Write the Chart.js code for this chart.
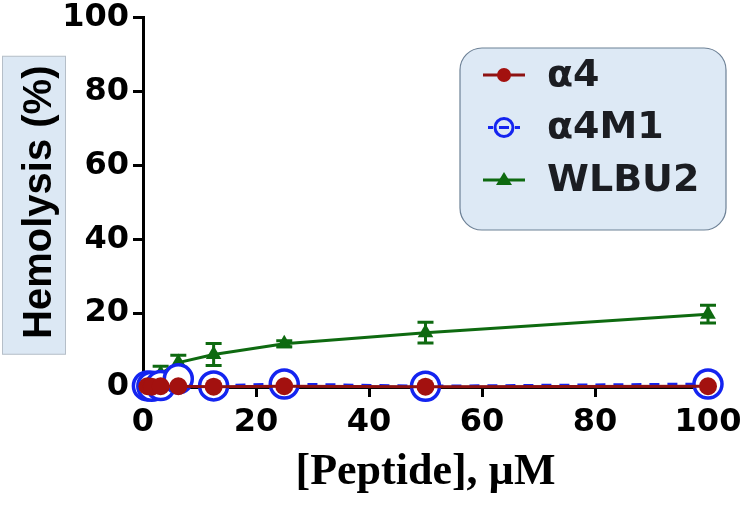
<!DOCTYPE html>
<html lang="en">
<head>
  <meta charset="UTF-8">
  <title>Hemolysis</title>
  <script src="https://cdn.jsdelivr.net/npm/chart.js"></script>
  <style>
    html, body { margin: 0; padding: 0; background: #fff; }
    #wrap { width: 740px; height: 507px; }
  </style>
</head>
<body>
  <div id="wrap"><canvas id="graf" width="740" height="507"></canvas></div>

  <script>
    /* --- datos --- */
    const conc      = [0.78, 1.56, 3.125, 6.25, 12.5, 25, 50, 100];   // µM
    const alfa4     = [0.2, 0.1, 0.2, 0.2, 0.1, 0.2, 0.1, 0.2];
    const alfa4M1   = [0.3, 0.2, 0.4, 2.2, 0.3, 0.8, 0.2, 0.8];
    const wlbu2     = [1.0, 1.8, 3.6, 6.6, 8.8, 11.7, 14.7, 19.7];
    const wlbu2Err  = [0.8, 1.2, 2.0, 2.0, 3.0, 0.8, 2.8, 2.4];
    const seriesNames = ['α4', 'α4M1', 'WLBU2'];
    const yTicks    = [0, 20, 40, 60, 80, 100];
    const xTicks    = [0, 20, 40, 60, 80, 100];

    const RED = '#a3110f', BLUE = '#1424f0', GREEN = '#0e6a10';
    const tickFont = { family: 'DejaVu Sans', weight: 'bold', size: 32 };

    const pts = arr => arr.map((v, i) => ({ x: conc[i], y: v }));

    /* caja celeste detrás del título del eje Y */
    const yTitleBox = {
      id: 'yTitleBox',
      beforeDraw(chart) {
        const s = chart.scales.y, ctx = chart.ctx;
        const cy = (s.top + s.bottom) / 2 + 3;
        ctx.save();
        ctx.fillStyle = '#dce8f4';
        ctx.strokeStyle = '#b5bec8';
        ctx.lineWidth = 1;
        ctx.fillRect(2.5, cy - 149, 63, 298);
        ctx.strokeRect(2.5, cy - 149, 63, 298);
        ctx.restore();
      }
    };

    /* barras de error de WLBU2 (se dibujan justo después de su serie) */
    const errorBars = {
      id: 'errorBars',
      afterDatasetDraw(chart, args) {
        if (args.index !== 2) return;
        const { x, y } = chart.scales, ctx = chart.ctx;
        ctx.save();
        ctx.strokeStyle = GREEN;
        ctx.lineWidth = 3;
        wlbu2.forEach((v, i) => {
          const px = x.getPixelForValue(conc[i]);
          const top = y.getPixelForValue(v + wlbu2Err[i]);
          const bot = y.getPixelForValue(v - wlbu2Err[i]);
          ctx.beginPath();
          ctx.moveTo(px, top); ctx.lineTo(px, bot);
          ctx.moveTo(px - 8, top); ctx.lineTo(px + 8, top);
          ctx.moveTo(px - 8, bot); ctx.lineTo(px + 8, bot);
          ctx.stroke();
        });
        ctx.restore();
      }
    };

    /* leyenda con caja redondeada */
    const legendBox = {
      id: 'legendBox',
      afterDraw(chart) {
        const ctx = chart.ctx;
        const bx = 460, by = 48, bw = 266, bh = 182;
        ctx.save();
        ctx.fillStyle = '#dde9f5';
        ctx.strokeStyle = '#6d8196';
        ctx.lineWidth = 1.2;
        ctx.beginPath();
        ctx.roundRect(bx, by, bw, bh, 22);
        ctx.fill(); ctx.stroke();

        chart.data.datasets.forEach((ds, i) => {
          const cy = by + 27 + i * 52.5;
          const mx = 504;
          ctx.lineWidth = 3;
          ctx.strokeStyle = ds.borderColor;
          if (i === 1) {
            // círculo abierto con guion interior y trazos cortos
            ctx.beginPath(); ctx.arc(mx, cy, 9, 0, Math.PI * 2); ctx.stroke();
            ctx.beginPath();
            ctx.moveTo(499, cy); ctx.lineTo(509, cy);
            ctx.moveTo(488, cy); ctx.lineTo(493, cy);
            ctx.moveTo(515, cy); ctx.lineTo(520, cy);
            ctx.stroke();
          } else {
            ctx.beginPath();
            ctx.moveTo(483, cy); ctx.lineTo(525, cy);
            ctx.stroke();
            ctx.fillStyle = ds.pointBackgroundColor;
            ctx.beginPath();
            if (i === 0) {
              ctx.arc(mx, cy, 7, 0, Math.PI * 2);
            } else {
              ctx.moveTo(mx, cy - 8); ctx.lineTo(mx + 8, cy + 5); ctx.lineTo(mx - 8, cy + 5);
              ctx.closePath();
            }
            ctx.fill();
          }
          ctx.fillStyle = '#1b1d22';
          ctx.font = 'bold 38px "DejaVu Sans"';
          ctx.textBaseline = 'middle';
          ctx.fillText(ds.label, 547, cy + 1);
        });
        ctx.restore();
      }
    };

    new Chart(document.getElementById('graf'), {
      type: 'line',
      data: {
        datasets: [
          {
            label: seriesNames[0],
            data: pts(alfa4),
            borderColor: '#8e1212',
            borderWidth: 3,
            pointStyle: 'circle',
            pointRadius: 9,
            pointBackgroundColor: RED,
            pointBorderColor: RED,
            pointBorderWidth: 0,
            clip: false
          },
          {
            label: seriesNames[1],
            data: pts(alfa4M1),
            borderColor: BLUE,
            borderWidth: 3,
            borderDash: [10, 8],
            pointStyle: 'circle',
            pointRadius: 14,
            pointBackgroundColor: '#ffffff',
            pointBorderColor: BLUE,
            pointBorderWidth: 3.5,
            clip: false
          },
          {
            label: seriesNames[2],
            data: pts(wlbu2),
            borderColor: GREEN,
            borderWidth: 3,
            pointStyle: 'triangle',
            pointRadius: 9,
            pointBackgroundColor: GREEN,
            pointBorderColor: GREEN,
            pointBorderWidth: 0,
            clip: false
          }
        ]
      },
      options: {
        responsive: false,
        animation: false,
        devicePixelRatio: 1,
        layout: { padding: { left: 0, right: 32, top: 15, bottom: 6 } },
        plugins: {
          legend: { display: false },
          tooltip: { enabled: false }
        },
        scales: {
          x: {
            type: 'linear',
            min: 0, max: 100,
            afterBuildTicks: s => { s.ticks = xTicks.map(v => ({ value: v })); },
            afterFit: s => { s.height = 114; s.paddingLeft = 0; s.paddingRight = 0; },
            grid: { drawOnChartArea: false, drawTicks: true, tickLength: 10, color: '#000', lineWidth: 3 },
            border: { color: '#000', width: 3 },
            ticks: { color: '#000', font: tickFont, padding: 6, maxRotation: 0 },
            title: {
              display: true,
              text: '[Peptide], µM',
              color: '#000',
              font: { family: 'Liberation Serif', weight: 'bold', size: 44 },
              padding: { top: 4, bottom: 2 }
            }
          },
          y: {
            min: 0, max: 100,
            afterBuildTicks: s => { s.ticks = yTicks.map(v => ({ value: v })); },
            afterFit: s => { s.width = 143; s.paddingTop = 0; s.paddingBottom = 0; },
            grid: { drawOnChartArea: false, drawTicks: true, tickLength: 10, color: '#000', lineWidth: 3 },
            border: { color: '#000', width: 3 },
            ticks: { color: '#000', font: tickFont, padding: 4 },
            title: {
              display: true,
              text: 'Hemolysis (%)',
              color: '#000',
              font: { family: 'Liberation Sans', weight: 'bold', size: 40 },
              padding: { top: 16, bottom: 0 }
            }
          }
        }
      },
      plugins: [yTitleBox, errorBars, legendBox]
    });
  </script>
</body>
</html>
